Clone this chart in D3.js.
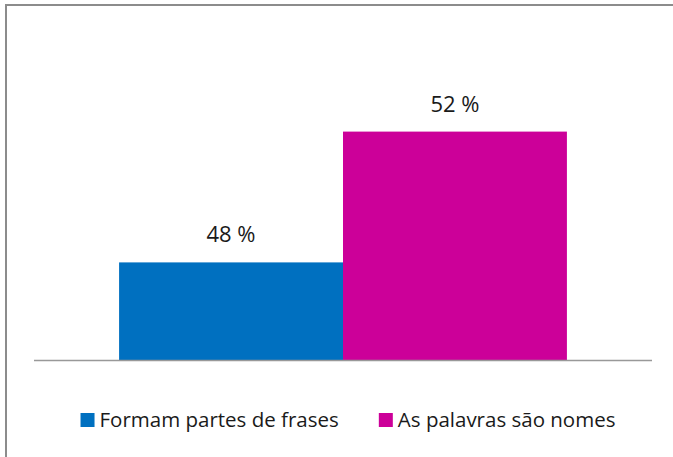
<!DOCTYPE html>
<html>
<head>
<meta charset="utf-8">
<script src="https://cdn.jsdelivr.net/npm/d3@7"></script>
<style>
  html, body { margin: 0; padding: 0; background: #fff; }
  svg { display: block; font-family: "Open Sans", sans-serif; }
</style>
</head>
<body>
<div id="chart"></div>
<script>
// dados do gráfico
var categories = [''];
var seriesNames = ['Formam partes de frases', 'As palavras são nomes'];
var seriesValues = [48, 52];
var yDomain = [45, 55];

var colors = ['#0070C0', '#CC0099'];

var width = 673, height = 457;
var plot = { left: 34, right: 652, top: 33.5, bottom: 360.5 };

var svg = d3.select('#chart').append('svg')
    .attr('width', width)
    .attr('height', height);

svg.append('rect').attr('width', width).attr('height', height).attr('fill', '#fff');

// moldura (só topo e esquerda visíveis)
svg.append('path')
    .attr('d', 'M 6 ' + height + ' L 6 5 L ' + width + ' 5')
    .attr('fill', 'none')
    .attr('stroke', '#8c8c8c')
    .attr('stroke-width', 2);

var x0 = d3.scaleBand()
    .domain(categories)
    .range([plot.left, plot.right])
    .paddingInner(0)
    .paddingOuter(0.19);

var x1 = d3.scaleBand()
    .domain(seriesNames)
    .range([0, x0.bandwidth()]);

var y = d3.scaleLinear()
    .domain(yDomain)
    .range([plot.bottom, plot.top]);

var g = svg.append('g');

seriesNames.forEach(function (name, i) {
    var bx = x0(categories[0]) + x1(name);
    g.append('rect')
        .attr('x', bx)
        .attr('y', y(seriesValues[i]))
        .attr('width', x1.bandwidth())
        .attr('height', y(yDomain[0]) - y(seriesValues[i]))
        .attr('fill', colors[i]);

    g.append('text')
        .attr('x', bx + x1.bandwidth() / 2)
        .attr('y', y(seriesValues[i]) - 20)
        .attr('text-anchor', 'middle')
        .attr('font-size', 22)
        .attr('fill', '#1a1a1a')
        .text(seriesValues[i] + ' %');
});

// eixo x (linha base)
svg.append('line')
    .attr('x1', plot.left)
    .attr('x2', plot.right)
    .attr('y1', y(yDomain[0]))
    .attr('y2', y(yDomain[0]))
    .attr('stroke', '#999')
    .attr('stroke-width', 1.5);

// legenda
var legend = svg.append('g');
var lx = 0;
seriesNames.forEach(function (name, i) {
    var item = legend.append('g').attr('transform', 'translate(' + lx + ',0)');
    item.append('rect')
        .attr('x', 0)
        .attr('y', -14)
        .attr('width', 14)
        .attr('height', 14)
        .attr('fill', colors[i]);
    var t = item.append('text')
        .attr('x', 19)
        .attr('y', 0)
        .attr('font-size', 20.5)
        .attr('fill', '#1a1a1a')
        .text(name);
    lx += 19 + t.node().getComputedTextLength() + 40;
});
var lb = legend.node().getBBox();
legend.attr('transform', 'translate(' + (348 - lb.width / 2) + ',427)');
</script>
</body>
</html>
